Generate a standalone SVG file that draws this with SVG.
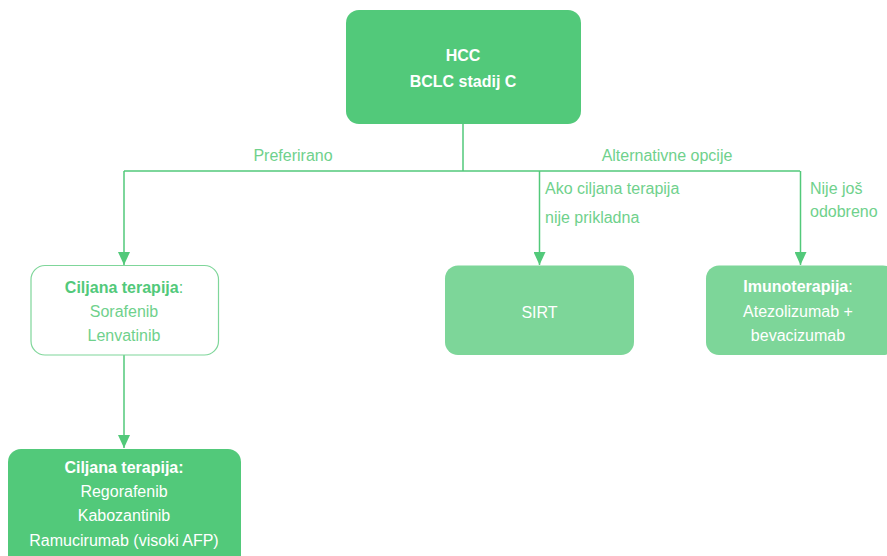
<svg xmlns="http://www.w3.org/2000/svg" width="887" height="556" viewBox="0 0 887 556">
<defs>
<style>
text{font-family:"Liberation Sans",Arial,sans-serif;font-size:16px;text-anchor:middle}
.w{fill:#ffffff}
.b{font-weight:bold}
.g{fill:#52c97a}
.lbl{fill:#6fd18c;text-anchor:start}
.lblc{fill:#6fd18c}
.ln{stroke:#52c97a;stroke-width:1.5;fill:none}
</style>
<marker id="ah" markerWidth="13" markerHeight="12" refX="13" refY="6" orient="auto" markerUnits="userSpaceOnUse" viewBox="0 0 13 12">
<path d="M0,0 L13,6 L0,12 Z" fill="#52c97a"/>
</marker>
</defs>
<rect width="887" height="556" fill="#ffffff"/>
<g id="connectors">
<path class="ln" d="M463,124 V171"/>
<path class="ln" d="M124,171 H800"/>
<path class="ln" d="M124,171 V265" marker-end="url(#ah)"/>
<path class="ln" d="M539.5,171 V265" marker-end="url(#ah)"/>
<path class="ln" d="M800.5,171 V265" marker-end="url(#ah)"/>
<path class="ln" d="M124,355 V448" marker-end="url(#ah)"/>
<text class="lblc" x="293" y="161">Preferirano</text>
<text class="lblc" x="667" y="161">Alternativne opcije</text>
<text class="lbl" x="545" y="194">Ako ciljana terapija</text>
<text class="lbl" x="545" y="223">nije prikladna</text>
<text class="lbl" x="810" y="194">Nije još</text>
<text class="lbl" x="810" y="217">odobreno</text>
</g>
<g id="hcc">
<rect x="346" y="10" width="235" height="114" rx="13" fill="#52c97a"/>
<text class="w b" x="463" y="61" font-size="17">HCC</text>
<text class="w b" x="463" y="87" font-size="17">BCLC stadij C</text>
</g>
<g id="ciljana1">
<rect x="31" y="265.5" width="187.5" height="89.5" rx="14" fill="#ffffff" stroke="#7fd69a" stroke-width="1.2"/>
<text x="124" y="293" class="g"><tspan class="b">Ciljana terapija</tspan>:</text>
<text x="124" y="317" class="lblc">Sorafenib</text>
<text x="124" y="341" class="lblc">Lenvatinib</text>
</g>
<g id="sirt">
<rect x="445" y="265.5" width="189" height="89.5" rx="13" fill="#7dd699"/>
<text class="w" x="539.5" y="318">SIRT</text>
</g>
<g id="imuno">
<rect x="706" y="265.5" width="190" height="89.5" rx="13" fill="#7dd699"/>
<text class="w" x="798" y="292"><tspan class="b">Imunoterapija</tspan>:</text>
<text class="w" x="798" y="317">Atezolizumab +</text>
<text class="w" x="798" y="341">bevacizumab</text>
</g>
<g id="ciljana2">
<rect x="8" y="449" width="233" height="120" rx="13" fill="#52c97a"/>
<text class="w b" x="124" y="473">Ciljana terapija:</text>
<text class="w" x="124" y="497">Regorafenib</text>
<text class="w" x="124" y="521">Kabozantinib</text>
<text class="w" x="124" y="546">Ramucirumab (visoki AFP)</text>
</g>
</svg>
